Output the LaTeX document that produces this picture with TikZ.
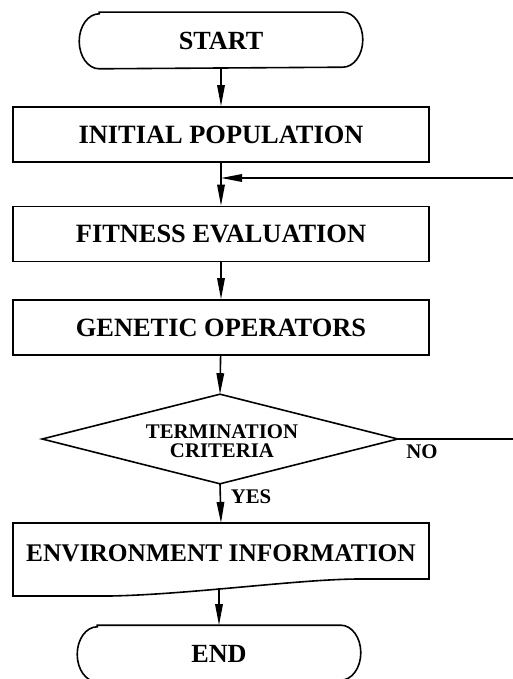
\documentclass[tikz,border=0pt]{standalone}
\usepackage{fontspec}
\setmainfont{Liberation Serif}
\usetikzlibrary{arrows.meta}
\begin{document}
\begin{tikzpicture}[x=1pt,y=-1pt, line width=1.6pt,
  box/.style={draw, rectangle, minimum width=416pt, minimum height=55pt, inner sep=0pt,
    font=\fontsize{26.4}{28}\selectfont\bfseries},
  term/.style={rectangle, minimum width=282pt, minimum height=55pt, inner sep=0pt,
    font=\fontsize{26.2}{28}\selectfont\bfseries},
  arr/.style={-{Triangle[length=21pt,width=7.5pt]}},
  lbl/.style={inner sep=0pt, font=\fontsize{20.8}{19}\selectfont\bfseries}]
\useasboundingbox (0,0) rectangle (513,679);
% START
\node[term] (start) at (221,40.5) {START};
\draw ([xshift=20pt]start.north west) -- ([xshift=-20pt]start.north east)
  arc[start angle=90,end angle=-90,x radius=20pt,y radius=27.5pt]
  -- ([xshift=20pt]start.south west)
  arc[start angle=270,end angle=90,x radius=20pt,y radius=27.5pt] -- cycle;
% boxes
\node[box] (init) at (221,134.5) {INITIAL POPULATION};
\node[box] (fit) at (221,234) {FITNESS EVALUATION};
\node[box] (gen) at (221,327.5) {GENETIC OPERATORS};
% decision
\node[rectangle, minimum width=354pt, minimum height=88pt, inner sep=0pt] (crit) at (220,439) {};
\draw (crit.north) -- (crit.east) -- (crit.south) -- (crit.west) -- cycle;
\node[lbl, align=center] (crittext) at (222,441) {TERMINATION\\CRITERIA};
\node[lbl] (no) at (422,452) {NO};
\node[lbl] (yes) at (251,497) {YES};
% environment information
\node[rectangle, inner sep=0pt, font=\fontsize{25.4}{28}\selectfont\bfseries] (env) at (221,553.5) {ENVIRONMENT INFORMATION};
\coordinate (envtl) at (13,523);
\coordinate (envtr) at (429,523);
\coordinate (envbr) at (429,579);
\coordinate (envbl) at (13,596);
\coordinate (envtop) at (221,523);
\coordinate (envb) at (219,588);
\draw (envtl) -- (envtr) -- (envbr) -- (360,579)
  .. controls (300,579) and (190,594.5) .. (110,596) -- (envbl) -- cycle;
% END
\node[term] (end) at (219,653.5) {END};
\draw ([xshift=20pt]end.north west) -- ([xshift=-20pt]end.north east)
  arc[start angle=90,end angle=-90,x radius=20pt,y radius=27.5pt]
  -- ([xshift=20pt]end.south west)
  arc[start angle=270,end angle=90,x radius=20pt,y radius=27.5pt] -- cycle;
% connectors
\draw[arr] (start) -- (init);
\draw[arr] (init) -- (fit);
\coordinate (fb) at (221,178);
\coordinate (fbr) at (513,178);
\draw[arr] (fbr) -- (fb);
\draw[arr] (fit) -- (gen);
\draw[arr] (gen) -- (crit.north);
\draw[arr] (crit.south) -- (envtop);
\coordinate (nor) at (513,439);
\draw (crit.east) -- (nor);
\draw[arr] (envb) -- (end);
\end{tikzpicture}
\end{document}
